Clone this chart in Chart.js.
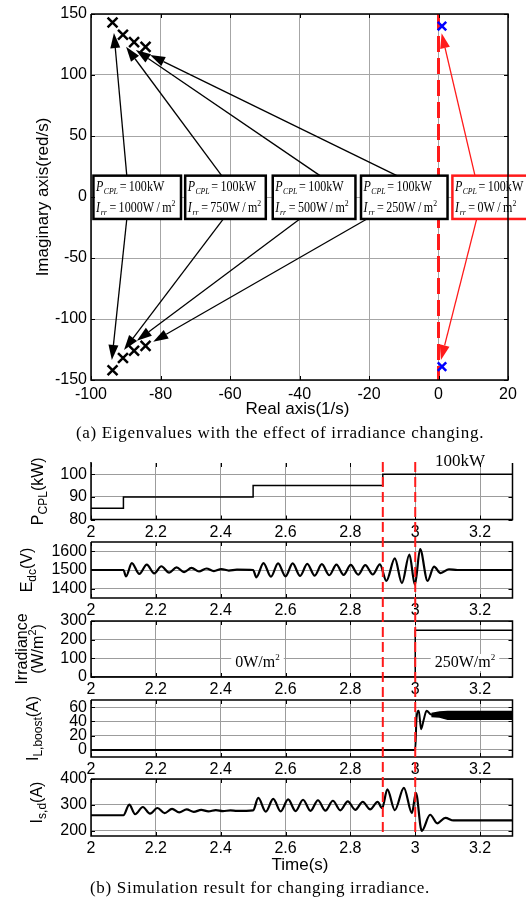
<!DOCTYPE html>
<html>
<head>
<meta charset="utf-8">
<title>Eigenvalues and simulation result for changing irradiance</title>
<script src="https://cdn.jsdelivr.net/npm/chart.js@4.4.1/dist/chart.umd.min.js"></script>
<style>
html,body{margin:0;padding:0;background:#fff;}
#fig{position:relative;width:526px;height:903px;overflow:hidden;background:#fff;}
#fig canvas{position:absolute;left:0;top:0;}
.caption{position:absolute;left:0;white-space:nowrap;font-family:"Liberation Serif","Times New Roman",serif;font-size:17px;line-height:20px;letter-spacing:0.7px;color:#000;text-align:center;}
</style>
</head>
<body>
<div id="fig">
<canvas id="eig" width="526" height="903"></canvas>
<canvas id="p1" width="526" height="903"></canvas>
<canvas id="p2" width="526" height="903"></canvas>
<canvas id="p3" width="526" height="903"></canvas>
<canvas id="p4" width="526" height="903"></canvas>
<canvas id="p5" width="526" height="903"></canvas>
<div class="caption" style="top:423px;width:560px;">(a) Eigenvalues with the effect of irradiance changing.</div>
<div class="caption" style="top:878px;width:520px;">(b) Simulation result for changing irradiance.</div>
</div>
<script>
// ================= (a) eigenvalue data =================
const realTicks = [-100, -80, -60, -40, -20, 0, 20];
const imagTicks = [-150, -100, -50, 0, 50, 100, 150];
const stableReal = [-93.8, -90.8, -87.6, -84.3, -93.8, -90.8, -87.6, -84.3];
const stableImag = [143, 133, 127, 123, -142, -132, -126, -122];
const unstableReal = [1, 1];
const unstableImag = [140, -139];
const stabilityBoundary = 0;
const cplPower = '100kW';
const irrLevels = ['1000', '750', '500', '250', '0'];

// ================= (b) time-domain data =================
const timeTicks = [2, 2.2, 2.4, 2.6, 2.8, 3, 3.2];
const eventTimes = [2.9, 3.0];

const pcplTicks = [80, 90, 100];
const pcplT = [2, 2.1, 2.5, 2.9, 3.3];
const pcplV = [85, 90, 95, 100, 100];

const edcTicks = [1400, 1500, 1600];
const edcT = [2, 2.1, 2.108, 2.126, 2.149, 2.172, 2.195, 2.217, 2.241, 2.264, 2.287, 2.310, 2.333, 2.356, 2.379, 2.402, 2.425, 2.45, 2.5,
  2.510, 2.532, 2.555, 2.577, 2.600, 2.622, 2.645, 2.667, 2.690, 2.712, 2.735, 2.757, 2.779, 2.801, 2.824, 2.846, 2.869, 2.891,
  2.911, 2.937, 2.959, 2.982, 2.999, 3.015, 3.038, 3.058, 3.078, 3.104, 3.13, 3.3];
const edcV = [1500, 1500, 1466, 1537, 1479, 1529, 1482, 1520, 1486, 1514, 1489, 1511, 1492, 1508, 1494, 1505, 1497, 1502, 1500,
  1461, 1537, 1464, 1536, 1466, 1535, 1468, 1533, 1470, 1531, 1472, 1529, 1474, 1527, 1475, 1526, 1476, 1530,
  1442, 1562, 1430, 1583, 1421, 1612, 1442, 1518, 1483, 1504, 1500, 1500];

const irrTicks = [0, 100, 200, 300];
const irrT = [2, 3, 3.3];
const irrV = [0, 250, 250];

const iLTicks = [0, 20, 40, 60];
const iLT = [2, 3.0, 3.004, 3.011, 3.018, 3.026, 3.035, 3.047, 3.058];
const iLV = [0, 0, 45, 55, 29, 42, 55, 50, 48];
const iLBandT = [3.05, 3.075, 3.1, 3.3];
const iLBandHi = [51, 53, 54, 54];
const iLBandLo = [47, 46, 43, 43];

const isdTicks = [200, 300, 400];
const isdT = [2, 2.1, 2.118, 2.136, 2.16, 2.182, 2.205, 2.227, 2.25, 2.272, 2.295, 2.317, 2.34, 2.362, 2.385, 2.407, 2.43, 2.45, 2.5,
  2.516, 2.539, 2.562, 2.585, 2.608, 2.631, 2.654, 2.677, 2.700, 2.723, 2.746, 2.769, 2.792, 2.815, 2.838, 2.861, 2.884, 2.898,
  2.914, 2.937, 2.965, 2.990, 3.002, 3.020, 3.046, 3.068, 3.093, 3.118, 3.3];
const isdV = [260, 260, 301, 264, 292, 266, 288, 268, 285, 271, 283, 273, 281, 275, 280, 276, 279, 277, 279,
  327, 274, 323, 275, 321, 276, 320, 277, 318, 278, 316, 279, 314, 281, 312, 283, 312, 288,
  360, 280, 366, 268, 347, 200, 262, 229, 250, 240, 240];

// ================= helpers =================
const FS = '"Liberation Sans", Arial, Helvetica, sans-serif';
const FR = '"Liberation Serif", "Times New Roman", Times, serif';
const sans = s => s + 'px ' + FS;
const serif = (s, it) => (it ? 'italic ' : '') + s + 'px ' + FR;
const fmt = v => String(Number(Number(v).toFixed(3)));
const pts = (t, v) => t.map((x, i) => ({x: x, y: v[i]}));

function richWidth(ctx, parts) {
  let w = 0;
  for (const p of parts) { ctx.font = p.font; w += ctx.measureText(p.t).width + (p.gap || 0); }
  return w;
}
function drawRich(ctx, parts, x, y) {
  for (const p of parts) {
    ctx.font = p.font;
    ctx.fillText(p.t, x, y + (p.dy || 0));
    x += ctx.measureText(p.t).width + (p.gap || 0);
  }
  return x;
}
function drawRot(ctx, parts, bx, cy) {
  ctx.save();
  ctx.translate(bx, cy);
  ctx.rotate(-Math.PI / 2);
  ctx.fillStyle = '#000';
  ctx.textAlign = 'left';
  ctx.textBaseline = 'alphabetic';
  drawRich(ctx, parts, -richWidth(ctx, parts) / 2, 0);
  ctx.restore();
}
function frame(chart, xt, yt, opts) {
  const {ctx, chartArea: a, scales: {x, y}} = chart;
  ctx.save();
  ctx.strokeStyle = '#000';
  ctx.lineWidth = 1.5;
  ctx.beginPath();
  ctx.moveTo(a.left, a.top - (opts.noTop ? 1 : 0)); ctx.lineTo(a.left, a.bottom); ctx.lineTo(a.right, a.bottom); ctx.lineTo(a.right, a.top);
  if (!opts.noTop) ctx.lineTo(a.left, a.top);
  ctx.stroke();
  ctx.lineWidth = 1;
  ctx.beginPath();
  const L = 4;
  for (const v of xt) {
    const px = Math.round(x.getPixelForValue(v)) + 0.5;
    ctx.moveTo(px, a.bottom); ctx.lineTo(px, a.bottom - L);
    ctx.moveTo(px, a.top); ctx.lineTo(px, a.top + L);
  }
  for (const v of yt) {
    const py = Math.round(y.getPixelForValue(v)) + 0.5;
    ctx.moveTo(a.left, py); ctx.lineTo(a.left + L, py);
    ctx.moveTo(a.right, py); ctx.lineTo(a.right - L, py);
  }
  ctx.stroke();
  ctx.restore();
}
function arrow(ctx, x0, y0, x1, y1, color) {
  const dx = x1 - x0, dy = y1 - y0, L = Math.hypot(dx, dy), ux = dx / L, uy = dy / L;
  const hl = 15, hw = 5;
  const bx = x1 - ux * hl, by = y1 - uy * hl;
  ctx.strokeStyle = color; ctx.fillStyle = color; ctx.lineWidth = 1.3;
  ctx.beginPath(); ctx.moveTo(x0, y0); ctx.lineTo(bx, by); ctx.stroke();
  ctx.beginPath(); ctx.moveTo(x1, y1);
  ctx.lineTo(bx - uy * hw, by + ux * hw); ctx.lineTo(bx + uy * hw, by - ux * hw);
  ctx.closePath(); ctx.fill();
}

// ================= (a) eigenvalue chart =================
const eigNotes = {
  boxTop: 17.5, boxBottom: -18,
  boxX: [[-99.3, -74.1], [-72.9, -49.7], [-47.7, -23.9], [-22.3, 2.6], [4.0, 27]],
  arrows: [
    {from: [-89.7, 17.5], to: [-93.4, 134.4]},
    {from: [-62.4, 17.5], to: [-89.9, 123.2]},
    {from: [-34.1, 17.5], to: [-87.1, 120.5]},
    {from: [-12.0, 17.5], to: [-83.0, 116.4]},
    {from: [10.5, 17.5], to: [0.9, 134.2], red: true},
    {from: [-89.7, -18], to: [-94.0, -133.6]},
    {from: [-61.9, -18], to: [-90.5, -125.4]},
    {from: [-39.9, -18], to: [-86.8, -117.8]},
    {from: [-20.6, -18], to: [-82.1, -118.6]},
    {from: [11.0, -18], to: [0.7, -133.6], red: true}
  ]
};
const RED = '#ff1a1a';
const eigDeco = {
  id: 'eigDeco',
  beforeDatasetsDraw(chart) {
    const {ctx, chartArea: a, scales: {x}} = chart;
    const px = x.getPixelForValue(stabilityBoundary);
    ctx.save();
    ctx.strokeStyle = RED; ctx.lineWidth = 3; ctx.setLineDash([16, 6]);
    ctx.beginPath(); ctx.moveTo(px, a.top); ctx.lineTo(px, a.bottom); ctx.stroke();
    ctx.restore();
  },
  afterDatasetsDraw(chart) {
    const {ctx, scales: {x, y}} = chart;
    ctx.save();
    for (const ar of eigNotes.arrows) {
      arrow(ctx, x.getPixelForValue(ar.from[0]), y.getPixelForValue(ar.from[1]),
            x.getPixelForValue(ar.to[0]), y.getPixelForValue(ar.to[1]), ar.red ? RED : '#000');
    }
    const yT = y.getPixelForValue(eigNotes.boxTop), yB = y.getPixelForValue(eigNotes.boxBottom);
    const SX = 0.86;
    eigNotes.boxX.forEach((b, i) => {
      const x0 = x.getPixelForValue(b[0]), x1 = x.getPixelForValue(b[1]);
      const red = i === eigNotes.boxX.length - 1;
      ctx.fillStyle = '#fff';
      ctx.fillRect(x0, yT, x1 - x0, yB - yT);
      ctx.strokeStyle = red ? RED : '#000';
      ctx.lineWidth = 2.5;
      ctx.strokeRect(x0, yT, x1 - x0, yB - yT);
      ctx.save();
      ctx.translate(x0 + 2.5, 0);
      ctx.scale(SX, 1);
      ctx.fillStyle = '#000';
      ctx.textAlign = 'left'; ctx.textBaseline = 'alphabetic';
      drawRich(ctx, [
        {t: 'P', font: serif(14, true), gap: 0.5},
        {t: 'CPL', font: serif(9, true), dy: 3, gap: 2},
        {t: '=\u2009' + cplPower, font: serif(14)}
      ], 0, yT + 15.5);
      drawRich(ctx, [
        {t: 'I', font: serif(14, true), gap: 1},
        {t: 'rr', font: serif(9, true), dy: 3, gap: 3},
        {t: '=\u2009' + irrLevels[i] + 'W\u2009/\u2009m', font: serif(14)},
        {t: '2', font: serif(9), dy: -6}
      ], 0, yT + 36.5);
      ctx.restore();
    });
    ctx.restore();
  },
  afterDraw(chart) {
    const {ctx, chartArea: a} = chart;
    frame(chart, realTicks, imagTicks, {});
    ctx.save();
    ctx.fillStyle = '#000';
    ctx.font = sans(17); ctx.textAlign = 'center'; ctx.textBaseline = 'alphabetic';
    ctx.fillText('Real axis(1/s)', 297.5, 414);
    drawRot(ctx, [{t: 'Imaginary axis(red/s)', font: sans(17)}], 48, (a.top + a.bottom) / 2);
    ctx.restore();
  }
};

const tickFont = {family: FS, size: 16};
new Chart(document.getElementById('eig'), {
  type: 'scatter',
  data: {
    datasets: [
      {data: pts(stableReal, stableImag), pointStyle: 'crossRot', pointRadius: 7, borderColor: '#000', backgroundColor: '#000', borderWidth: 2.5},
      {data: pts(unstableReal, unstableImag), pointStyle: 'crossRot', pointRadius: 6, borderColor: '#0000ff', backgroundColor: '#0000ff', borderWidth: 2.5}
    ]
  },
  options: {
    responsive: false, animation: false, events: [],
    layout: {padding: {left: 0, top: 14, right: 18, bottom: 903 - 380 - 30}},
    plugins: {legend: {display: false}, tooltip: {enabled: false}},
    scales: {
      x: {
        type: 'linear', min: -100, max: 20,
        afterBuildTicks: s => { s.ticks = realTicks.map(v => ({value: v})); },
        afterFit: s => { s.height = 30; },
        grid: {color: '#a6a6a6', lineWidth: 1, drawTicks: false}, border: {display: false},
        ticks: {padding: 5, font: tickFont, color: '#000', autoSkip: false, maxRotation: 0, callback: v => fmt(v)}
      },
      y: {
        type: 'linear', min: -150, max: 150,
        afterBuildTicks: s => { s.ticks = imagTicks.map(v => ({value: v})); },
        afterFit: s => { s.width = 91; },
        grid: {color: '#a6a6a6', lineWidth: 1, drawTicks: false}, border: {display: false},
        ticks: {padding: 4, font: tickFont, color: '#000', autoSkip: false, callback: v => fmt(v)}
      }
    }
  },
  plugins: [eigDeco]
});

// ================= (b) time-domain panels =================
function makePanel(spec) {
  const deco = {
    id: 'deco_' + spec.id,
    afterDraw(chart) {
      const {ctx, chartArea: a} = chart;
      frame(chart, timeTicks, spec.yTicks, {noTop: spec.noTop});
      ctx.save();
      for (const lab of spec.labels) drawRot(ctx, lab.parts, lab.x, (a.top + a.bottom) / 2 + (lab.dy || 0));
      if (spec.extra) spec.extra(chart, ctx);
      ctx.restore();
    }
  };
  return new Chart(document.getElementById(spec.id), {
    type: 'line',
    data: {datasets: spec.datasets.map(d => Object.assign({borderColor: '#000', backgroundColor: '#000', pointRadius: 0, fill: false, borderWidth: 2}, d))},
    options: {
      responsive: false, animation: false, events: [],
      layout: {padding: {left: 0, right: 13.5, top: spec.top, bottom: 903 - spec.bottom - 24}},
      plugins: {legend: {display: false}, tooltip: {enabled: false}},
      scales: {
        x: {
          type: 'linear', min: 2, max: 3.3,
          afterBuildTicks: s => { s.ticks = timeTicks.map(v => ({value: v})); },
          afterFit: s => { s.height = 24; },
          grid: {color: '#9c9c9c', lineWidth: 1, drawTicks: false}, border: {display: false},
          ticks: {padding: 3, font: tickFont, color: '#000', autoSkip: false, maxRotation: 0, callback: v => fmt(v)}
        },
        y: {
          type: 'linear', min: spec.min, max: spec.max,
          afterBuildTicks: s => { s.ticks = spec.yTicks.map(v => ({value: v})); },
          afterFit: s => { s.width = 91; },
          grid: {color: '#9c9c9c', lineWidth: 1, drawTicks: false}, border: {display: false},
          ticks: {padding: 4, font: tickFont, color: '#000', autoSkip: false, callback: v => fmt(v)}
        }
      }
    },
    plugins: [deco]
  });
}
function boxedText(ctx, parts, cx, baseY) {
  const w = richWidth(ctx, parts);
  ctx.fillStyle = '#fff';
  ctx.fillRect(cx - w / 2 - 4, baseY - 13, w + 8, 17);
  ctx.fillStyle = '#000';
  ctx.textAlign = 'left'; ctx.textBaseline = 'alphabetic';
  drawRich(ctx, parts, cx - w / 2, baseY);
}

makePanel({
  id: 'p1', top: 463, bottom: 519.5, min: 80, max: 105, yTicks: pcplTicks, noTop: true,
  datasets: [{data: pts(pcplT, pcplV), stepped: 'before', borderWidth: 1.5}],
  labels: [{x: 43, parts: [{t: 'P', font: sans(16)}, {t: 'CPL', font: sans(12), dy: 4}, {t: '(kW)', font: sans(16)}]}],
  extra(chart, ctx) {
    ctx.fillStyle = '#000'; ctx.font = serif(17); ctx.textAlign = 'center'; ctx.textBaseline = 'alphabetic';
    ctx.fillText(cplPower, 460, 466);
  }
});
makePanel({
  id: 'p2', top: 542, bottom: 598, min: 1350, max: 1650, yTicks: edcTicks,
  datasets: [{data: pts(edcT, edcV), borderWidth: 2.2, cubicInterpolationMode: 'monotone'}],
  labels: [{x: 32, parts: [{t: 'E', font: sans(16)}, {t: 'dc', font: sans(12), dy: 4}, {t: '(V)', font: sans(16)}]}]
});
makePanel({
  id: 'p3', top: 621, bottom: 677, min: 0, max: 300, yTicks: irrTicks,
  datasets: [{data: pts(irrT, irrV), stepped: 'before', borderWidth: 1.5}],
  labels: [
    {x: 27, parts: [{t: 'Irradiance', font: sans(16)}]},
    {x: 43, parts: [{t: '(W/m', font: sans(16)}, {t: '2', font: sans(11), dy: -7}, {t: ')', font: sans(16)}]}
  ],
  extra(chart, ctx) {
    boxedText(ctx, [{t: irrV[0] + 'W/m', font: serif(16)}, {t: '2', font: serif(9), dy: -7}], 257.5, 667);
    boxedText(ctx, [{t: irrV[1] + 'W/m', font: serif(16)}, {t: '2', font: serif(9), dy: -7}], 465, 667);
  }
});
makePanel({
  id: 'p4', top: 700, bottom: 757, min: -10, max: 70, yTicks: iLTicks,
  datasets: [
    {data: pts(iLT, iLV), borderWidth: 2, cubicInterpolationMode: 'monotone'},
    {data: pts(iLBandT, iLBandHi), borderWidth: 1.5, fill: '+1'},
    {data: pts(iLBandT, iLBandLo), borderWidth: 1.5}
  ],
  labels: [{x: 38, parts: [{t: 'I', font: sans(16)}, {t: 'L,boost', font: sans(12), dy: 4}, {t: '(A)', font: sans(16)}]}]
});
makePanel({
  id: 'p5', top: 779, bottom: 836, min: 180, max: 400, yTicks: isdTicks,
  datasets: [{data: pts(isdT, isdV), borderWidth: 2.2, cubicInterpolationMode: 'monotone'}],
  labels: [{x: 42, dy: -5, parts: [{t: 'I', font: sans(16)}, {t: 's,d', font: sans(12), dy: 4}, {t: '(A)', font: sans(16)}]}],
  extra(chart, ctx) {
    const {chartArea: a, scales: {x}} = chart;
    ctx.fillStyle = '#000'; ctx.font = sans(17); ctx.textAlign = 'center'; ctx.textBaseline = 'alphabetic';
    ctx.fillText('Time(s)', 300, 870);
    ctx.strokeStyle = RED; ctx.lineWidth = 2; ctx.setLineDash([10, 5]);
    ctx.beginPath();
    for (const t of eventTimes) {
      const px = x.getPixelForValue(t);
      ctx.moveTo(px, 462); ctx.lineTo(px, a.bottom);
    }
    ctx.stroke();
  }
});
</script>
</body>
</html>
